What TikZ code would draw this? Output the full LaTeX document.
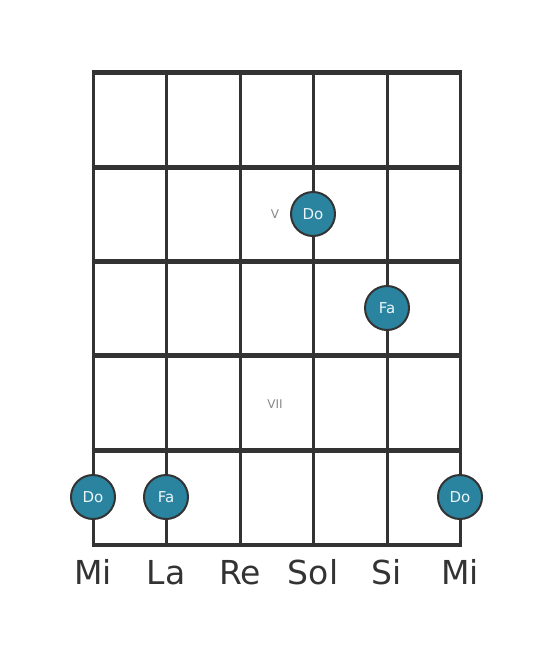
\documentclass[tikz,border=0pt]{standalone}
\usepackage{fontspec}
\setmainfont{DejaVu Sans}
\usetikzlibrary{positioning}
\definecolor{gridgray}{RGB}{51,51,51}
\definecolor{notefill}{RGB}{42,132,160}
\definecolor{fretgray}{RGB}{136,136,136}
\definecolor{notetext}{RGB}{235,245,248}

\begin{document}
\begin{tikzpicture}[x=1pt,y=-1pt,
		note/.style={draw=gridgray, line width=2pt, circle, fill=notefill, minimum size=44pt, inner sep=0pt, text=notetext, font=\fontsize{15}{15}\selectfont},
		stringname/.style={text=gridgray, font=\fontsize{33}{33}\selectfont, anchor=base},
		fretnum/.style={text=fretgray, font=\fontsize{12}{12}\selectfont}]
	\useasboundingbox (0,0) rectangle (553,656);
	
	% Draw strings
	\foreach \x in {93,166,240,313,387,460}
		\draw[gridgray, line width=3pt] (\x,72) -- (\x,545);
	
	% Draw frets
	\foreach \y in {72,167,261,355,450}
		\draw[gridgray, line width=5pt] (91.5,\y) -- (461.5,\y);
	\draw[gridgray, line width=4pt] (91.5,545) -- (461.5,545);
	
	% Fret numbers
	\node[fretnum] (fretV) at (275,214) {V};
	\node[fretnum] (fretVII) at (275,404) {VII};
	
	% Draw notes
	\node[note] (do1) at (313,214) {Do};
	\node[note] (fa1) at (387,308) {Fa};
	\node[note] (do2) at (93,497) {Do};
	\node[note] (fa2) at (166,497) {Fa};
	\node[note] (do3) at (460,497) {Do};
	
	% Add string names
	\node[stringname] (mi1) at (93,584) {Mi};
	\node[stringname] (la) at (166,584) {La};
	\node[stringname] (re) at (240,584) {Re};
	\node[stringname] (sol) at (313,584) {Sol};
	\node[stringname] (si) at (387,584) {Si};
	\node[stringname] (mi2) at (460,584) {Mi};
\end{tikzpicture}
\end{document}
